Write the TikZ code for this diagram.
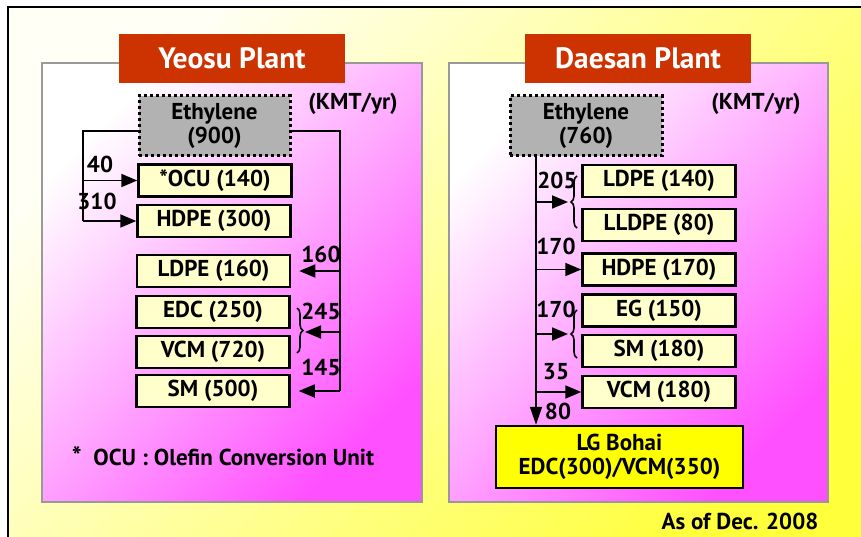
\documentclass[tikz,border=0pt]{standalone}
\usepackage{fontspec}
\setmainfont{PT Sans}
\usetikzlibrary{arrows.meta,decorations.pathreplacing}
\definecolor{titlered}{HTML}{CC3300}
\definecolor{ethgray}{HTML}{B2B2B2}
\definecolor{boxyellow}{HTML}{FFFFCC}
\definecolor{lgyellow}{HTML}{FFFF00}
\definecolor{panelmag}{RGB}{255,80,255}
\definecolor{bgtop}{RGB}{255,255,245}
\definecolor{bgbot}{RGB}{255,255,60}
\definecolor{panelborder}{HTML}{999999}
\begin{document}
\begin{tikzpicture}[x=1pt,y=-1pt,
  lbl/.style={font=\bfseries\fontsize{23}{24}\selectfont},
  titlebox/.style={fill=titlered, text=white, minimum width=226pt, minimum height=49pt, inner sep=0pt, font=\bfseries\fontsize{29.5}{31}\selectfont},
  ethbox/.style={fill=ethgray, draw=black, line width=3pt, dash pattern=on 3pt off 3pt, minimum width=151pt, minimum height=60pt, inner sep=0pt, align=center, lbl},
  prodbox/.style={fill=boxyellow, draw=black, line width=2.5pt, minimum width=153pt, minimum height=32pt, inner sep=0pt, lbl},
  lgbox/.style={fill=lgyellow, draw=black, line width=2.5pt, minimum width=247pt, minimum height=62pt, inner sep=0pt, align=center, lbl},
  conn/.style={line width=1.8pt},
  arr/.style={conn, -{Triangle[length=16pt,width=13pt]}},
  bracestyle/.style={line width=1.6pt, decorate, decoration={brace, amplitude=6pt}},
  panel/.style={draw=panelborder, line width=1.5pt, top color=white, bottom color=panelmag, shading angle=45},
  num/.style={lbl, inner sep=0pt}
]
\useasboundingbox (0,0) rectangle (861,537);
\clip (0,0) rectangle (861,537);
\fill[white] (0,0) rectangle (861,537);
% outer background
\shade[top color=bgtop, bottom color=bgbot, shading angle=45] (8,7) rectangle (880,560);
\draw[line width=2pt] (8,560) -- (8,7) -- (880,7);

% panels
\path[panel] (42,63) rectangle (422,502);
\path[panel] (449,63) rectangle (828,502);

% titles
\node[titlebox] (yt) at (232,58.5) {Yeosu Plant};
\node[titlebox] (dt) at (638,58.5) {Daesan Plant};

% ---------- Yeosu ----------
\node[ethbox] (ye) at (214.5,126) {Ethylene\\(900)};
\node[lbl] (yunit) at (353,104) {(KMT/yr)};
\node[prodbox] (yocu) at (215,180.5) {*OCU (140)};
\node[prodbox] (yhdpe) at (214,221) {HDPE (300)};
\node[prodbox] (yldpe) at (213.5,271) {LDPE (160)};
\node[prodbox] (yedc) at (213,312) {EDC (250)};
\node[prodbox] (yvcm) at (213,352) {VCM (720)};
\node[prodbox] (ysm) at (213,391) {SM (500)};

\coordinate (yL) at (83,0);
\coordinate (yR) at (340,0);
\draw[conn] ([yshift=-5pt]ye.west) -| (yL |- yhdpe.west);
\draw[arr] (yL |- yocu.west) -- (yocu.west);
\draw[arr] (yL |- yhdpe.west) -- (yhdpe.west);
\node[num] (n40) at (100,164) {40};
\node[num] (n310) at (97,201) {310};

\draw[conn] ([yshift=-5pt]ye.east) -| (yR |- ysm.east);
\draw[arr] (yR |- yldpe.east) -- ([xshift=8pt]yldpe.east);
\draw[bracestyle] (297,308) -- (297,353);
\coordinate (ybt) at (305,332);
\draw[arr] (yR |- ybt) -- (ybt);
\draw[arr] (yR |- ysm.east) -- ([xshift=8pt]ysm.east);
\node[num] (n160) at (321,254) {160};
\node[num] (n245) at (321,311) {245};
\node[num] (n145) at (321,367) {145};

\node[lbl] (foot) at (223,456) {{\fontsize{26}{24}\selectfont *}\ \ OCU : Olefin Conversion Unit};

% ---------- Daesan ----------
\node[ethbox, minimum width=152pt] (de) at (586,126) {Ethylene\\(760)};
\node[lbl] (dunit) at (756,104) {(KMT/yr)};
\node[prodbox] (dldpe) at (659,181) {LDPE (140)};
\node[prodbox] (dlldpe) at (659,225) {LLDPE (80)};
\node[prodbox] (dhdpe) at (659,269.5) {HDPE (170)};
\node[prodbox] (deg) at (659,310.5) {EG (150)};
\node[prodbox] (dsm) at (659,351) {SM (180)};
\node[prodbox] (dvcm) at (659,392) {VCM (180)};
\node[lgbox] (dlg) at (619.5,457) {LG Bohai\\EDC(300)/VCM(350)};

\coordinate (dT) at (536,0);
\draw[conn, -{Triangle[length=18pt,width=12pt]}] (dT |- de.south) -- (dT |- dlg.north);
\draw[bracestyle] (577,228) -- (577,176);
\coordinate (db1) at (568,202);
\draw[arr] (dT |- db1) -- (db1);
\draw[arr] (dT |- dhdpe.west) -- (dhdpe.west);
\draw[bracestyle] (577,358) -- (577,310);
\coordinate (db2) at (568,334);
\draw[arr] (dT |- db2) -- (db2);
\draw[arr] (dT |- dvcm.west) -- (dvcm.west);
\node[num] (n205) at (557,180) {205};
\node[num] (n170a) at (556,246) {170};
\node[num] (n170b) at (556,309) {170};
\node[num] (n35) at (556,372) {35};
\node[num] (n80) at (558,411) {80};

\node[lbl] (asof) at (740,521) {As of Dec. 2008};
\end{tikzpicture}
\end{document}
